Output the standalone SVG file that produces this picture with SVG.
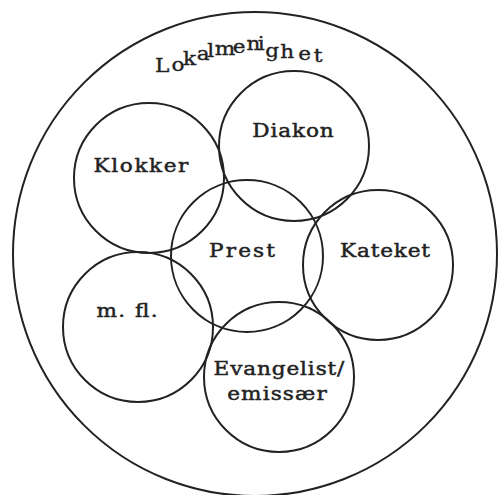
<svg xmlns="http://www.w3.org/2000/svg" width="501" height="495" viewBox="0 0 501 495">
<style>
.c{fill:none;stroke:#222;stroke-width:2}
.t{font-family:"DejaVu Serif","Liberation Serif",serif;font-size:18px;fill:#222;stroke:#222;stroke-width:0.45;text-anchor:middle}
.l{font-family:"DejaVu Serif","Liberation Serif",serif;font-size:18px;fill:#222;stroke:#222;stroke-width:0.35}
</style>
<rect width="501" height="495" fill="#fff"/>
<g id="lokalmenighet">
<circle class="c" cx="255" cy="254" r="242"/>
<text class="l" transform="scale(1.2,1)" x="129.2 143 152.5 164 172.8 179 194 205.5 214.8 221 233.5 248.5 261.5" y="72 71 65 60 57 55 53 50 50 57 58 60 62">Lokalmenighet</text>
</g>
<g id="diakon">
<circle class="c" cx="294" cy="146" r="75"/>
<text class="t" transform="translate(293,137) scale(1.2,1)" textLength="68" lengthAdjust="spacing">Diakon</text>
</g>
<g id="klokker">
<circle class="c" cx="149" cy="178" r="75"/>
<text class="t" transform="translate(141,172) scale(1.2,1)" textLength="79" lengthAdjust="spacing">Klokker</text>
</g>
<g id="prest">
<circle class="c" cx="247" cy="256" r="76"/>
<text class="t" transform="translate(242,257) scale(1.2,1)" textLength="55" lengthAdjust="spacing">Prest</text>
</g>
<g id="kateket">
<circle class="c" cx="378" cy="265" r="75"/>
<text class="t" transform="translate(385,257) scale(1.2,1)" textLength="75" lengthAdjust="spacing">Kateket</text>
</g>
<g id="mfl">
<circle class="c" cx="138" cy="327" r="75"/>
<text class="t" transform="translate(127,317) scale(1.2,1)" textLength="51" lengthAdjust="spacing">m. fl.</text>
</g>
<g id="evangelist">
<circle class="c" cx="279" cy="377" r="75"/>
<text class="t" transform="translate(279,375) scale(1.2,1)" textLength="109" lengthAdjust="spacing">Evangelist/</text>
<text class="t" transform="translate(277,400) scale(1.2,1)" textLength="83" lengthAdjust="spacing">emissær</text>
</g>
<g id="connectors"/>
</svg>
